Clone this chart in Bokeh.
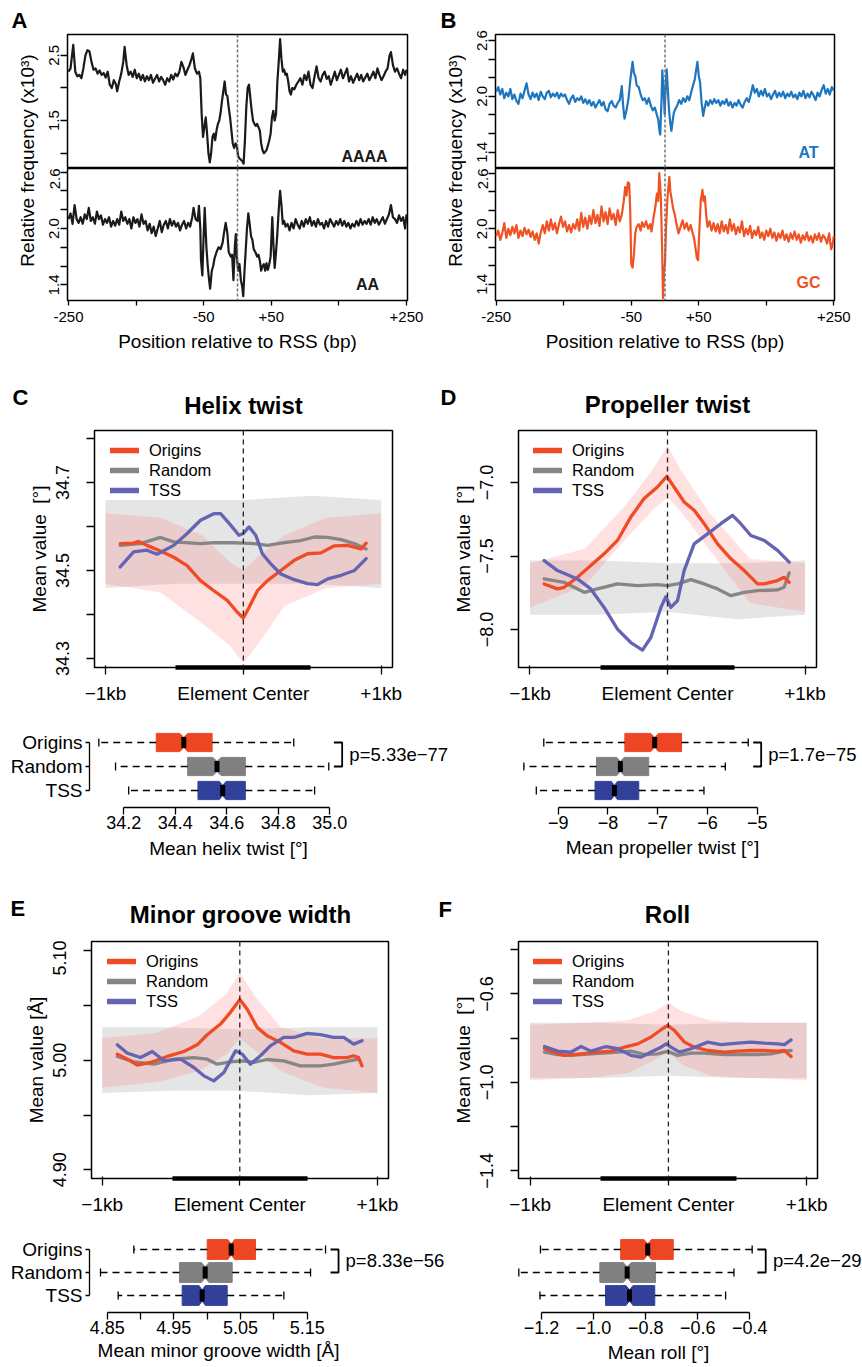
import math
from bokeh.plotting import figure
from bokeh.models import Range1d, LinearAxis, FixedTicker, Label, Span, Legend, LegendItem, Grid
from bokeh.layouts import row, column
from bokeh.embed import file_html
from bokeh.resources import INLINE
from bokeh.core.properties import value
from bokeh.core.validation import silence
from bokeh.core.validation.warnings import MISSING_RENDERERS

silence(MISSING_RENDERERS, True)
FONT = "Liberation Sans"

# ------------------------------------------------------------------ data
# Panels A/B : relative frequency (x10^3) vs position relative to RSS (bp)
AAAA = [(-250,2.25),(-247,2.30),(-243,2.66),(-240,2.25),(-237,2.18),(-234,2.20),(-231,2.15),(-228,2.30),(-225,2.50),(-222,2.58),(-219,2.56),(-216,2.40),(-213,2.28),(-210,2.30),(-207,2.22),(-204,2.27),(-201,2.20),(-198,2.23),(-195,2.16),(-192,2.25),(-189,2.05),(-186,2.00),(-183,2.12),(-180,2.06),(-178,1.95),(-175,2.10),(-172,2.22),(-169,2.40),(-167,2.63),(-164,2.35),(-161,2.20),(-158,2.25),(-155,2.17),(-152,2.28),(-149,2.15),(-146,2.22),(-143,2.12),(-140,2.20),(-137,2.10),(-134,2.18),(-131,2.12),(-128,2.20),(-125,2.08),(-122,2.14),(-119,2.20),(-116,2.10),(-113,2.17),(-110,2.12),(-107,2.05),(-104,2.15),(-101,2.10),(-98,2.20),(-95,2.13),(-92,2.22),(-89,2.18),(-86,2.25),(-83,2.40),(-80,2.32),(-77,2.20),(-74,2.28),(-71,2.35),(-68,2.45),(-66,2.53),(-63,2.30),(-60,2.22),(-57,2.25),(-55,2.15),(-53,1.60),(-51,1.25),(-49,1.40),(-47,1.55),(-45,1.30),(-43,1.00),(-41,0.86),(-39,1.00),(-37,1.25),(-35,1.30),(-33,1.20),(-31,1.35),(-29,1.45),(-27,1.50),(-25,1.62),(-23,1.80),(-21,1.95),(-19,2.10),(-17,1.90),(-15,1.88),(-13,1.70),(-11,1.55),(-9,1.35),(-7,1.15),(-5,1.08),(-3,1.15),(-1,1.12),(1,0.95),(3,0.92),(5,0.90),(7,0.88),(9,0.84),(11,1.20),(13,1.70),(15,2.00),(17,2.05),(19,1.85),(21,1.65),(23,1.50),(25,1.45),(27,1.42),(29,1.45),(31,1.40),(33,1.35),(35,1.15),(37,1.05),(39,1.00),(41,1.02),(43,1.05),(45,1.12),(47,1.20),(49,1.30),(51,1.55),(53,1.65),(55,1.50),(57,1.60),(59,2.10),(61,2.40),(63,2.75),(65,2.45),(67,2.25),(69,2.28),(71,2.20),(73,2.22),(75,2.10),(77,1.95),(79,1.90),(81,2.00),(84,1.98),(87,2.05),(90,2.10),(93,2.15),(96,2.05),(99,2.20),(102,2.12),(105,2.25),(108,2.05),(111,2.00),(114,2.18),(117,2.33),(120,2.15),(123,2.10),(126,2.20),(129,2.25),(132,2.14),(135,2.18),(138,2.05),(141,2.15),(144,2.25),(147,2.12),(150,2.20),(153,2.28),(156,2.15),(159,2.22),(162,2.30),(165,2.10),(168,2.18),(171,2.08),(174,2.15),(177,2.22),(180,2.12),(183,2.20),(186,2.10),(189,2.16),(192,2.22),(195,2.12),(198,2.18),(201,2.25),(204,2.15),(207,2.30),(210,2.20),(213,2.12),(216,2.18),(219,2.25),(222,2.30),(225,2.50),(227,2.55),(230,2.35),(233,2.25),(236,2.30),(239,2.22),(242,2.15),(245,2.28),(248,2.20),(250,2.28)]

AA = [(-250,2.10),(-247,2.16),(-244,2.05),(-241,2.25),(-238,2.10),(-235,2.06),(-232,2.12),(-229,2.05),(-226,2.15),(-223,2.10),(-220,2.22),(-217,2.08),(-214,2.12),(-211,2.05),(-208,2.18),(-205,2.10),(-202,2.14),(-199,2.04),(-196,2.10),(-193,2.06),(-190,2.12),(-187,2.02),(-184,2.08),(-181,2.03),(-178,2.10),(-175,2.04),(-172,2.18),(-169,2.08),(-166,2.12),(-163,2.05),(-160,2.10),(-157,2.00),(-154,2.12),(-151,2.06),(-148,2.10),(-145,2.02),(-142,2.15),(-139,2.05),(-136,2.08),(-133,1.98),(-130,2.05),(-127,1.95),(-124,2.02),(-121,1.92),(-118,2.00),(-115,2.08),(-112,1.96),(-109,2.04),(-106,2.08),(-103,2.00),(-100,2.10),(-97,2.03),(-94,2.08),(-91,2.02),(-88,2.06),(-85,1.98),(-82,2.04),(-79,2.08),(-76,2.00),(-73,2.06),(-70,2.02),(-67,2.12),(-65,2.22),(-62,2.10),(-59,2.08),(-57,2.24),(-55,2.00),(-54,1.66),(-52,1.50),(-50,1.95),(-48.5,2.22),(-46,1.80),(-44,1.60),(-42,1.45),(-40.5,1.36),(-38,1.55),(-36,1.60),(-34,1.68),(-31,1.75),(-28,1.80),(-25,1.78),(-22,1.85),(-20,1.95),(-17.5,2.06),(-15,1.95),(-13,1.75),(-10,1.70),(-8,1.72),(-6,1.45),(-4,1.80),(-2.5,1.94),(-1,1.70),(1,1.55),(3,1.62),(5,1.45),(7,1.38),(8.5,1.28),(10,1.50),(12,1.75),(14,2.00),(16,2.16),(18,2.05),(20,1.92),(22,1.88),(24,1.78),(27,1.74),(29,1.70),(31,1.72),(33,1.66),(35,1.55),(37,1.60),(39,1.62),(41,1.55),(43,1.63),(45,1.56),(47,1.62),(49,1.70),(51.5,2.12),(53,1.85),(55,1.58),(57,1.75),(59,1.95),(61,2.20),(63,2.40),(65,2.25),(67,2.05),(69,2.08),(71,2.02),(74,2.05),(77,1.98),(80,2.06),(83,2.00),(86,2.10),(89,2.04),(92,2.00),(95,2.08),(98,2.02),(101,2.10),(104,2.05),(107,2.12),(110,2.03),(113,2.08),(116,2.02),(119,2.10),(122,2.04),(125,2.06),(128,2.00),(131,2.08),(134,2.02),(137,2.10),(140,2.06),(143,2.02),(146,2.08),(149,2.04),(152,2.10),(155,2.03),(158,2.08),(161,2.02),(164,2.06),(167,2.00),(170,2.05),(173,2.02),(176,2.08),(179,2.03),(182,2.10),(185,2.04),(188,2.08),(191,2.05),(194,2.10),(197,2.04),(200,2.12),(203,2.06),(206,2.10),(209,2.04),(212,2.08),(215,2.12),(218,2.05),(221,2.10),(224,2.15),(227,2.25),(230,2.12),(233,2.10),(236,2.06),(239,2.14),(242,2.08),(245,2.12),(248,2.00),(250,2.15)]

AT = [(-250,2.05),(-247,2.10),(-244,2.02),(-241,2.08),(-238,1.98),(-235,2.04),(-232,2.00),(-229,2.08),(-226,1.97),(-223,2.02),(-220,1.95),(-217,1.92),(-214,2.03),(-211,1.98),(-208,2.06),(-205,2.14),(-202,2.02),(-199,1.97),(-196,2.04),(-193,1.99),(-190,2.03),(-187,1.96),(-184,2.05),(-181,2.00),(-178,1.97),(-175,2.04),(-172,2.06),(-169,1.99),(-166,2.03),(-163,2.00),(-160,2.04),(-157,1.98),(-154,2.03),(-151,2.00),(-148,2.02),(-145,1.96),(-142,1.92),(-139,1.98),(-136,2.01),(-133,1.94),(-130,1.98),(-127,1.96),(-124,2.00),(-121,1.93),(-118,1.97),(-115,1.92),(-112,1.96),(-109,1.90),(-106,1.94),(-103,1.88),(-100,1.92),(-97,1.96),(-94,1.90),(-91,1.94),(-88,1.86),(-85,1.84),(-82,1.92),(-79,1.95),(-76,1.90),(-73,1.88),(-70,1.93),(-67,1.96),(-64,2.11),(-62,1.90),(-60,1.76),(-57,1.85),(-54,1.98),(-51,2.20),(-48,2.37),(-46,2.25),(-44,2.22),(-42,2.12),(-39,2.10),(-36,2.02),(-33,1.96),(-30,1.98),(-27,1.92),(-24,1.98),(-21,1.90),(-18,1.85),(-15,1.88),(-12,1.80),(-10,1.75),(-8,1.62),(-7,1.59),(-5,2.00),(-4,2.28),(-2,2.05),(-0.5,1.81),(1,2.10),(2.5,2.29),(4,2.10),(6,1.85),(8,1.70),(9.5,1.63),(11,1.72),(13,1.82),(15,1.86),(18,1.90),(21,1.96),(24,1.92),(27,1.98),(30,1.94),(33,2.00),(36,1.96),(39,2.05),(42,2.13),(44,2.18),(46,2.28),(48,2.37),(50,2.22),(52,2.15),(54,1.95),(56.5,1.79),(58,1.85),(61,1.95),(64,1.90),(67,1.96),(70,1.92),(73,1.97),(76,1.93),(79,1.96),(82,1.90),(85,1.95),(88,1.92),(91,1.97),(94,1.90),(97,1.94),(100,1.88),(103,1.93),(106,1.90),(109,1.96),(112,1.91),(115,1.88),(118,1.94),(121,1.98),(124,1.94),(127,2.02),(130,2.12),(133,2.04),(136,2.08),(139,2.00),(142,2.06),(145,2.01),(148,2.08),(151,2.00),(154,2.03),(157,1.97),(160,2.02),(163,2.06),(166,1.99),(169,2.04),(172,2.00),(175,2.05),(178,1.98),(181,2.03),(184,2.00),(187,2.05),(190,1.99),(193,2.02),(196,1.97),(199,2.04),(202,2.00),(205,2.06),(208,1.98),(211,2.03),(214,1.99),(217,2.05),(220,2.01),(223,1.96),(226,2.04),(229,2.00),(232,2.07),(235,2.12),(238,2.03),(241,2.08),(244,2.02),(247,2.10),(250,2.06)]

GC = [(-250,1.92),(-247,1.98),(-244,1.88),(-241,1.95),(-238,2.06),(-235,1.90),(-232,2.00),(-229,1.93),(-226,2.02),(-223,1.95),(-220,2.04),(-217,1.90),(-214,1.98),(-211,1.92),(-208,2.01),(-205,1.94),(-202,1.99),(-199,1.91),(-196,1.97),(-193,1.88),(-190,1.95),(-187,1.84),(-184,1.96),(-181,2.04),(-178,1.95),(-175,2.08),(-172,1.98),(-169,2.10),(-166,1.99),(-163,2.06),(-160,1.95),(-157,2.05),(-154,2.13),(-151,2.02),(-148,2.08),(-145,1.97),(-142,2.04),(-139,1.96),(-136,2.05),(-133,2.00),(-130,2.10),(-127,1.98),(-124,2.17),(-121,2.02),(-118,2.12),(-115,2.00),(-112,2.14),(-109,2.05),(-106,2.20),(-103,2.06),(-100,2.15),(-97,2.03),(-94,2.24),(-91,2.08),(-88,2.18),(-85,2.05),(-82,2.22),(-79,2.10),(-76,2.16),(-73,2.04),(-70,2.20),(-67,2.08),(-64,2.15),(-61,2.30),(-59,2.45),(-57,2.36),(-55,2.50),(-53,2.49),(-51.5,2.20),(-50,1.62),(-48,1.58),(-46,1.72),(-44,1.95),(-42,2.02),(-39,2.05),(-36,1.98),(-34,2.07),(-31,2.02),(-28,2.08),(-25,2.00),(-22,2.05),(-20,1.97),(-17,2.12),(-14,2.25),(-12,2.38),(-10,2.30),(-8.5,2.60),(-7,2.45),(-6,2.31),(-4,1.70),(-3,1.25),(-1.5,1.55),(0,1.62),(1.5,2.00),(3.5,2.31),(5,2.45),(6.5,2.56),(8,2.40),(10,2.31),(12,2.22),(14.5,2.15),(17,2.05),(20,1.95),(23,2.02),(26,2.09),(29,2.00),(32,2.06),(35,1.98),(38,2.04),(41,1.95),(43,1.90),(45,1.80),(47,1.69),(49,1.66),(51,2.00),(53,2.31),(55.5,2.42),(57,2.30),(59,2.35),(61,2.15),(63,2.02),(66,2.08),(69,1.98),(72,2.06),(75,1.97),(78,2.05),(81,1.95),(84,2.08),(87,1.97),(90,2.04),(93,1.95),(96,2.10),(99,1.98),(102,2.05),(105,1.94),(108,2.02),(111,1.96),(114,2.08),(117,1.92),(120,2.00),(123,1.94),(126,2.03),(129,1.90),(132,1.98),(135,1.93),(138,2.02),(141,1.90),(144,1.96),(147,1.88),(150,1.98),(153,1.92),(156,2.00),(159,1.90),(162,1.96),(165,1.87),(168,1.95),(171,1.90),(174,1.98),(177,1.88),(180,1.94),(183,1.86),(186,1.95),(189,1.89),(192,1.97),(195,1.88),(198,1.94),(201,1.85),(204,1.93),(207,1.88),(210,1.96),(213,1.87),(216,1.92),(219,1.85),(222,1.94),(225,1.88),(228,1.95),(231,1.86),(234,1.93),(237,1.90),(240,1.84),(243,1.95),(246,1.78),(248,1.82),(250,1.92)]

POS_TICKS = [-250, -50, 50, 250]
POS_LABELS = ["-250", "-50", "+50", "+250"]
POS_MINOR = [-150, 150]

# Panels C-F : mean DNA shape profiles around element centers (bp, value)
GROUPS = ["Origins", "Random", "TSS"]
LINE_COLORS = ["#F04B24", "#868686", "#6464B2"]
BOX_COLORS = ["#EE4623", "#808080", "#33409A"]
ELEMENT = (-490, 490)
KB_TICKS = [-1000, 0, 1000]
KB_LABELS = ["\u22121kb", "Element Center", "+1kb"]

HT_ORI = [(-893,34.561),(-796,34.562),(-760,34.566),(-699,34.557),(-602,34.544),(-505,34.530),(-408,34.511),(-311,34.477),(-214,34.454),(-117,34.432),(-44,34.405),(0,34.392),(41,34.416),(102,34.454),(175,34.477),(272,34.500),(369,34.523),(466,34.538),(563,34.540),(660,34.556),(757,34.557),(854,34.549),(891,34.562)]
HT_RND = [(-893,34.557),(-748,34.561),(-602,34.575),(-505,34.565),(-311,34.561),(-214,34.563),(-68,34.563),(0,34.562),(78,34.561),(175,34.557),(296,34.563),(417,34.568),(515,34.576),(612,34.575),(709,34.570),(806,34.561),(891,34.549)]
HT_TSS = [(-893,34.508),(-796,34.542),(-699,34.546),(-626,34.537),(-505,34.557),(-408,34.584),(-311,34.614),(-214,34.629),(-165,34.629),(-92,34.603),(-32,34.580),(0,34.584),(41,34.599),(90,34.580),(138,34.538),(199,34.515),(272,34.492),(369,34.479),(466,34.470),(539,34.468),(612,34.481),(709,34.489),(806,34.500),(891,34.527)]

PT_ORI = [(-897,-7.690),(-800,-7.724),(-752,-7.713),(-655,-7.645),(-558,-7.565),(-461,-7.485),(-364,-7.394),(-267,-7.235),(-170,-7.109),(-73,-7.030),(-5,-6.957),(48,-7.030),(121,-7.132),(194,-7.189),(267,-7.280),(364,-7.417),(461,-7.519),(558,-7.599),(655,-7.690),(703,-7.690),(800,-7.667),(848,-7.645),(885,-7.679)]
PT_RND = [(-897,-7.656),(-752,-7.679),(-606,-7.747),(-509,-7.724),(-364,-7.690),(-218,-7.702),(-73,-7.695),(0,-7.702),(73,-7.690),(170,-7.661),(267,-7.690),(364,-7.724),(461,-7.770),(558,-7.747),(655,-7.736),(800,-7.731),(848,-7.713),(885,-7.615)]
PT_TSS = [(-897,-7.531),(-800,-7.599),(-655,-7.656),(-558,-7.724),(-461,-7.850),(-364,-7.998),(-267,-8.089),(-182,-8.141),(-121,-8.055),(-48,-7.850),(-12,-7.777),(24,-7.850),(73,-7.804),(121,-7.599),(194,-7.417),(291,-7.349),(388,-7.280),(473,-7.223),(533,-7.280),(606,-7.360),(703,-7.394),(800,-7.462),(885,-7.542)]

MG_ORI = [(-890,5.0055),(-817,5.0009),(-745,4.9954),(-648,4.9979),(-527,5.0034),(-406,5.0079),(-310,5.0140),(-237,5.0232),(-140,5.0329),(-68,5.0436),(0,5.0552),(53,5.0466),(126,5.0299),(198,5.0223),(295,5.0162),(392,5.0085),(489,5.0055),(585,5.0055),(682,5.0024),(779,5.0024),(827,5.0040),(863,5.0024),(888,4.9948)]
MG_RND = [(-890,5.0034),(-769,4.9985),(-624,4.9963),(-479,5.0009),(-334,5.0024),(-237,5.0009),(-164,4.9963),(-44,4.9988),(29,4.9994),(102,4.9979),(198,5.0006),(319,4.9994),(440,4.9948),(585,4.9948),(682,4.9963),(779,4.9988),(863,5.0009)]
MG_TSS = [(-890,5.0140),(-817,5.0064),(-721,5.0024),(-636,5.0079),(-551,4.9994),(-430,5.0009),(-334,4.9933),(-261,4.9857),(-189,4.9811),(-116,4.9887),(-31,5.0085),(17,5.0055),(77,4.9963),(150,5.0040),(222,5.0131),(319,5.0207),(392,5.0207),(489,5.0244),(585,5.0232),(682,5.0207),(755,5.0207),(827,5.0146),(888,5.0177)]

RL_ORI = [(-896,-0.848),(-800,-0.871),(-752,-0.878),(-631,-0.871),(-511,-0.863),(-414,-0.859),(-318,-0.841),(-222,-0.826),(-125,-0.795),(-53,-0.762),(-5,-0.743),(43,-0.765),(116,-0.818),(188,-0.841),(284,-0.856),(405,-0.863),(501,-0.859),(598,-0.856),(694,-0.856),(790,-0.859),(839,-0.856),(887,-0.883)]
RL_RND = [(-896,-0.863),(-800,-0.875),(-704,-0.878),(-559,-0.871),(-414,-0.866),(-270,-0.859),(-173,-0.874),(-77,-0.871),(-5,-0.860),(67,-0.878),(164,-0.868),(260,-0.868),(405,-0.875),(501,-0.874),(646,-0.874),(742,-0.871),(839,-0.859),(887,-0.856)]
RL_TSS = [(-896,-0.838),(-800,-0.859),(-704,-0.863),(-631,-0.838),(-559,-0.859),(-451,-0.838),(-366,-0.848),(-270,-0.878),(-198,-0.886),(-125,-0.863),(-53,-0.841),(-17,-0.826),(19,-0.841),(80,-0.863),(164,-0.848),(284,-0.818),(381,-0.829),(501,-0.823),(598,-0.818),(694,-0.823),(790,-0.826),(839,-0.829),(887,-0.808)]

# spread of the per-position point clouds (x, lower, upper)
HT_CLOUD_RND = ([-1000, -500, 0, 500, 1000], [34.46, 34.47, 34.47, 34.47, 34.46], [34.66, 34.66, 34.66, 34.67, 34.66])
HT_CLOUD_ORI = ([-1000, -600, -300, -100, 0, 100, 300, 600, 1000], [34.47, 34.45, 34.38, 34.33, 34.29, 34.33, 34.42, 34.46, 34.47], [34.63, 34.62, 34.58, 34.52, 34.50, 34.53, 34.58, 34.62, 34.63])
PT_CLOUD_RND = ([-1000, -500, 0, 500, 1000], [-7.90, -7.90, -7.88, -7.93, -7.90], [-7.53, -7.53, -7.55, -7.55, -7.53])
PT_CLOUD_ORI = ([-1000, -600, -300, -100, 0, 100, 300, 600, 1000], [-7.85, -7.70, -7.38, -7.18, -7.10, -7.20, -7.45, -7.82, -7.88], [-7.55, -7.45, -7.15, -6.90, -6.75, -6.92, -7.20, -7.52, -7.55])
MG_CLOUD_RND = ([-1000, -500, 0, 500, 1000], [4.970, 4.972, 4.972, 4.968, 4.970], [5.030, 5.030, 5.028, 5.030, 5.030])
MG_CLOUD_ORI = ([-1000, -600, -300, -100, 0, 100, 300, 600, 1000], [4.975, 4.980, 4.990, 5.005, 5.020, 5.010, 4.990, 4.975, 4.970], [5.020, 5.025, 5.040, 5.060, 5.080, 5.060, 5.030, 5.020, 5.020])
RL_CLOUD_RND = ([-1000, -500, 0, 500, 1000], [-0.98, -0.98, -0.97, -0.98, -0.98], [-0.73, -0.73, -0.74, -0.73, -0.73])
RL_CLOUD_ORI = ([-1000, -600, -300, -100, 0, 100, 300, 600, 1000], [-0.99, -0.98, -0.96, -0.90, -0.86, -0.92, -0.97, -0.98, -0.99], [-0.74, -0.73, -0.72, -0.68, -0.64, -0.68, -0.72, -0.73, -0.73])

# box plots: (whisker low, Q1, median, Q3, whisker high) for Origins, Random, TSS
HT_BOX = [(34.103, 34.326, 34.433, 34.543, 34.860), (34.168, 34.448, 34.562, 34.672, 34.996), (34.219, 34.488, 34.584, 34.672, 34.941)]
PT_BOX = [(-9.29, -7.66, -7.06, -6.52, -5.18), (-9.69, -8.23, -7.75, -7.18, -5.64), (-9.44, -8.26, -7.87, -7.38, -6.07)]
MG_BOX = [(4.890, 5.000, 5.036, 5.0725, 5.1775), (4.840, 4.9585, 4.997, 5.0375, 5.155), (4.8665, 4.9625, 4.9925, 5.030, 5.115)]
RL_BOX = [(-1.204, -0.896, -0.792, -0.694, -0.391), (-1.287, -0.976, -0.871, -0.762, -0.461), (-1.206, -0.954, -0.862, -0.765, -0.493)]
P_VALUES = ["p=5.33e\u221277", "p=1.7e\u221275", "p=8.33e\u221256", "p=4.2e\u221229"]


# ------------------------------------------------------------------ helpers
class Geo:
    """canvas / frame rectangles in page pixels, plus data ranges"""
    def __init__(self, canvas, frame=None, xr=None, yr=None):
        self.cx0, self.cy0, self.cx1, self.cy1 = canvas
        self.fx0, self.fy0, self.fx1, self.fy1 = frame if frame else canvas
        self.xr = xr if xr else (0, self.fx1 - self.fx0)
        self.yr = yr if yr else (0, self.fy1 - self.fy0)

    def X(self, px):
        return self.xr[0] + (px - self.fx0) * (self.xr[1] - self.xr[0]) / (self.fx1 - self.fx0)

    def Y(self, py):
        return self.yr[1] - (py - self.fy0) * (self.yr[1] - self.yr[0]) / (self.fy1 - self.fy0)


def make_fig(g, outline=True):
    p = figure(width=g.cx1 - g.cx0, height=g.cy1 - g.cy0,
               x_range=Range1d(*g.xr), y_range=Range1d(*g.yr),
               x_axis_location=None, y_axis_location=None,
               toolbar_location=None, output_backend="svg",
               min_border_left=g.fx0 - g.cx0, min_border_right=g.cx1 - g.fx1,
               min_border_top=g.fy0 - g.cy0, min_border_bottom=g.cy1 - g.fy1)
    p.center = [c for c in p.center if not isinstance(c, Grid)]
    p.outline_line_color = "black" if outline else None
    p.outline_line_width = 1.5
    p.background_fill_color = "white"
    p.border_fill_color = "white"
    return p


def axis(major, labels, minor=(), tick_out=7, tick_in=0, standoff=4, size="18px",
         orient="horizontal", line=False, bounds=None):
    ax = LinearAxis(ticker=FixedTicker(ticks=list(major), minor_ticks=list(minor)),
                    major_label_overrides=dict(zip(major, labels)),
                    major_tick_out=tick_out, major_tick_in=tick_in,
                    minor_tick_out=tick_out if minor else 0, minor_tick_in=0,
                    major_tick_line_width=1.3, minor_tick_line_width=1.3,
                    major_label_standoff=standoff, major_label_orientation=orient,
                    major_label_text_font=FONT, major_label_text_font_size=size,
                    major_label_text_color="black",
                    axis_label_text_font=FONT, axis_label_text_font_style="normal",
                    axis_label_text_color="black")
    if line:
        ax.axis_line_width = 1.3
        ax.axis_line_color = "black"
    else:
        ax.axis_line_color = None
    if bounds is not None:
        ax.bounds = bounds
    return ax


def lab(g, px, py, text, size, bold=False, align="left", baseline="alphabetic", angle=0, color="black"):
    """text label placed at page pixel (px, py); py is the text baseline unless baseline='middle'"""
    if baseline == "alphabetic":
        py = py - 0.3465 * size
    return Label(x=g.X(px), y=g.Y(py), text=text, text_font=FONT, text_font_size=f"{size}px",
                 text_font_style="bold" if bold else "normal", text_align=align,
                 text_baseline="middle", angle=angle, text_color=color)


def text_strip(g, items):
    """empty figure carrying panel letters / titles / axis titles"""
    p = make_fig(g, outline=False)
    for px, py, text, size, bold, align in items:
        p.add_layout(lab(g, px, py, text, size, bold=bold, align=align))
    return p


# ------------------------------------------------------------------ panels A / B
def rss_fig(g, series, color, tag, tag_px):
    p = make_fig(g)
    xs = [s[0] for s in series]
    ys = [s[1] for s in series]
    p.add_layout(Span(location=0, dimension="height", line_color="#707070", line_width=1.5, line_dash="3 2"))
    p.line(xs, ys, line_color=color, line_width=2.2, line_join="round")
    p.add_layout(lab(g, tag_px[0], tag_px[1], tag, 16, bold=True, align="center", color=color))
    return p


A_top_g = Geo((42, 0, 430, 168), (67, 34, 407, 168), (-251.5, 251.5), (0.766, 2.82))
A_bot_g = Geo((42, 168, 430, 365), (67, 168, 407, 300), (-251.5, 251.5), (1.233, 2.639))
B_top_g = Geo((466, 0, 862, 168), (495, 34, 834, 168), (-251, 251), (1.225, 2.665))
B_bot_g = Geo((466, 168, 862, 365), (495, 168, 834, 300), (-251, 251), (1.225, 2.65))

A_top = rss_fig(A_top_g, AAAA, "#1A1A1A", "AAAA", (364, 162))
A_bot = rss_fig(A_bot_g, AA, "#1A1A1A", "AA", (367, 290))
B_top = rss_fig(B_top_g, AT, "#1E76C0", "AT", (808, 158))
B_bot = rss_fig(B_bot_g, GC, "#EF5323", "GC", (808, 288))

A_top.add_layout(axis([1.5, 2.5], ["1.5", "2.5"], minor=[1.0, 2.0], tick_out=7, standoff=1, size="15px",
                      orient="parallel"), "left")
for pp in (A_bot, B_top, B_bot):
    pp.add_layout(axis([1.4, 2.0, 2.6], ["1.4", "2.0", "2.6"], minor=[1.6, 1.8, 2.2, 2.4], tick_out=7, standoff=1,
                       size="15px", orient="parallel"), "left")
for pp in (A_bot, B_bot):
    xa = axis(POS_TICKS, POS_LABELS, minor=POS_MINOR, tick_out=5, standoff=6, size="15px")
    xa.axis_label = "Position relative to RSS (bp)"
    xa.axis_label_text_font_size = "19px"
    xa.axis_label_standoff = 6
    pp.add_layout(xa, "below")

labA_g = Geo((0, 0, 42, 365))
labB_g = Geo((430, 0, 466, 365))
labA = make_fig(labA_g, outline=False)
labB = make_fig(labB_g, outline=False)
for pp, gg, letter, lx, yx in ((labA, labA_g, "A", 11, 26.5), (labB, labB_g, "B", 440, 455)):
    pp.add_layout(lab(gg, lx, 28, letter, 22, bold=True))
    pp.add_layout(lab(gg, yx, 160, "Relative frequency (x10\u00b3)", 19, align="center",
                      baseline="middle", angle=math.pi / 2))


# ------------------------------------------------------------------ panels C-F
def main_panel(g, curves, cloud_rnd, cloud_ori, ymaj, ylabels, ymin, ylabel, legend_loc):
    p = make_fig(g)
    p.varea(x=cloud_rnd[0], y1=cloud_rnd[1], y2=cloud_rnd[2], fill_color="#8A8A8A", fill_alpha=0.22)
    p.varea(x=cloud_ori[0], y1=cloud_ori[1], y2=cloud_ori[2], fill_color="#FF6A6A", fill_alpha=0.2)
    p.add_layout(Span(location=0, dimension="height", line_color="#222222", line_width=1.3, line_dash="5 4"))
    for idx in (1, 0, 2):
        xs = [c[0] for c in curves[idx]]
        ys = [c[1] for c in curves[idx]]
        p.line(xs, ys, line_color=LINE_COLORS[idx], line_width=3.3, line_join="round", line_cap="round")
    items = []
    for name, col in zip(GROUPS, LINE_COLORS):
        r = p.line(x=[float("nan")], y=[float("nan")], line_color=col, line_width=5.5, line_cap="round")
        items.append(LegendItem(label=name, renderers=[r]))
    lg = Legend(items=items, location=legend_loc, margin=0, padding=0, spacing=0,
                glyph_width=29, glyph_height=20, label_height=20, label_standoff=10,
                border_line_color=None, background_fill_alpha=0,
                label_text_font=FONT, label_text_font_size="16.5px", label_text_color="black")
    p.add_layout(lg)
    ya = axis(ymaj, ylabels, minor=ymin, tick_out=8, standoff=17, size="18px", orient="parallel")
    ya.axis_label = ylabel
    ya.axis_label_text_font_size = "19px"
    ya.axis_label_standoff = 4
    p.add_layout(ya, "left")
    spacer = axis([], [], tick_out=3, standoff=0)
    bar = axis([], [], tick_out=0, standoff=0, line=True, bounds=ELEMENT)
    bar.axis_line_width = 4.5
    ticks = axis(KB_TICKS, KB_LABELS, tick_out=7, tick_in=2, standoff=8, size="19px")
    p.add_layout(spacer, "below")
    p.add_layout(bar, "below")
    p.add_layout(ticks, "below")
    return p


def box_panel(g, stats, major, labels, minor, pval, group_axis, hh):
    p = make_fig(g, outline=False)
    ys = [3, 2, 1]
    lo = [s[0] for s in stats]
    q1 = [s[1] for s in stats]
    md = [s[2] for s in stats]
    q3 = [s[3] for s in stats]
    hi = [s[4] for s in stats]
    nd = 0.45 * hh
    pxs, pys = [], []
    for a, b, c, y in zip(q1, md, q3, ys):
        nw = 0.07 * (c - a)
        pxs.append([a, b - nw, b, b + nw, c, c, b + nw, b, b - nw, a])
        pys.append([y + hh, y + hh, y + hh - nd, y + hh, y + hh, y - hh, y - hh, y - hh + nd, y - hh, y - hh])
    p.patches(pxs, pys, fill_color=BOX_COLORS, line_color=BOX_COLORS, line_width=1)
    p.segment(x0=q1, y0=ys, x1=lo, y1=ys, line_color="black", line_width=1.3, line_dash="7 5")
    p.segment(x0=q3, y0=ys, x1=hi, y1=ys, line_color="black", line_width=1.3, line_dash="7 5")
    cap = 0.17
    p.segment(x0=lo, y0=[y - cap for y in ys], x1=lo, y1=[y + cap for y in ys], line_color="black", line_width=1.3)
    p.segment(x0=hi, y0=[y - cap for y in ys], x1=hi, y1=[y + cap for y in ys], line_color="black", line_width=1.3)
    p.rect(x=md, y=ys, width=5, height=2 * (hh - nd) + 0.05, width_units="screen",
           fill_color="black", line_color=None)
    span = major[-1] - major[0]
    bx = max(hi[0], hi[1]) + 0.065 * span
    tl = 0.04 * span
    p.line(x=[bx - tl, bx, bx, bx - tl], y=[3, 3, 2, 2], line_color="black", line_width=1.8)
    p.text(x=[bx + 0.035 * span], y=[2.5], text=[pval], text_font=value(FONT), text_font_size="18.5px",
           text_baseline="middle", text_align="left", text_color="black")
    xa = axis(major, labels, minor=minor, tick_out=7, standoff=1, size="18px", line=True,
              bounds=(major[0], major[-1]))
    p.add_layout(xa, "below")
    if group_axis:
        ya = axis([3, 2, 1], GROUPS, tick_out=4, standoff=3, size="19px", line=True, bounds=(1, 3))
        p.add_layout(ya, "left")
    return p


# title strips
C_tg = Geo((0, 365, 430, 429))
D_tg = Geo((430, 365, 862, 429))
E_tg = Geo((0, 880, 430, 940))
F_tg = Geo((430, 880, 862, 940))
C_title = text_strip(C_tg, [(12, 405, "C", 22, True, "left"), (243, 413, "Helix twist", 24, True, "center")])
D_title = text_strip(D_tg, [(440, 405, "D", 22, True, "left"), (667, 412, "Propeller twist", 24, True, "center")])
E_title = text_strip(E_tg, [(10, 916, "E", 22, True, "left"), (240, 922, "Minor groove width", 24, True, "center")])
F_title = text_strip(F_tg, [(438, 917, "F", 22, True, "left"), (667, 922, "Roll", 24, True, "center")])

C_g = Geo((0, 429, 430, 710), (94, 430, 392, 667), (-1079.8, 1082.0), (34.2795, 34.818))
D_g = Geo((430, 429, 862, 710), (518, 430, 816, 667), (-1083.6, 1083.6), (-8.259, -6.6455))
E_g = Geo((0, 940, 430, 1218), (91, 941, 388, 1178), (-1077.4, 1080.3), (4.8921, 5.1082))
F_g = Geo((430, 940, 862, 1218), (518, 941, 817, 1178), (-1083.9, 1078.1), (-1.4346, -0.3632))

C_main = main_panel(C_g, (HT_ORI, HT_RND, HT_TSS), HT_CLOUD_RND, HT_CLOUD_ORI,
                    [34.3, 34.5, 34.7], ["34.3", "34.5", "34.7"], [34.4, 34.6, 34.8],
                    "Mean value\u00a0 [\u00b0]", (16, 167))
D_main = main_panel(D_g, (PT_ORI, PT_RND, PT_TSS), PT_CLOUD_RND, PT_CLOUD_ORI,
                    [-8.0, -7.5, -7.0], ["\u22128.0", "\u22127.5", "\u22127.0"], [],
                    "Mean value\u00a0 [\u00b0]", (15, 167))
E_main = main_panel(E_g, (MG_ORI, MG_RND, MG_TSS), MG_CLOUD_RND, MG_CLOUD_ORI,
                    [4.90, 5.00, 5.10], ["4.90", "5.00", "5.10"], [4.95, 5.05],
                    "Mean value [\u00c5]", (16, 167))
F_main = main_panel(F_g, (RL_ORI, RL_RND, RL_TSS), RL_CLOUD_RND, RL_CLOUD_ORI,
                    [-1.4, -1.0, -0.6], ["\u22121.4", "\u22121.0", "\u22120.6"], [-1.2, -0.8, -0.4],
                    "Mean value\u00a0 [\u00b0]", (15, 167))

Cb_g = Geo((0, 710, 458, 838), (89, 722, 458, 807), (34.0668, 35.4998), (0.2917, 3.8333))
Db_g = Geo((458, 710, 862, 838), (458, 722, 862, 807), (-11.004, -2.883), (0.2917, 3.8333))
Eb_g = Geo((0, 1218, 458, 1340), (89, 1228, 458, 1312), (4.8235, 5.3769), (0.2609, 3.913))
Fb_g = Geo((458, 1218, 862, 1340), (458, 1228, 862, 1312), (-1.5187, 0.0327), (0.2609, 3.913))

C_box = box_panel(Cb_g, HT_BOX, [34.2, 34.4, 34.6, 34.8, 35.0], ["34.2", "34.4", "34.6", "34.8", "35.0"], [],
                  P_VALUES[0], True, 0.38)
D_box = box_panel(Db_g, PT_BOX, [-9, -8, -7, -6, -5], ["\u22129", "\u22128", "\u22127", "\u22126", "\u22125"], [],
                  P_VALUES[1], False, 0.38)
E_box = box_panel(Eb_g, MG_BOX, [4.85, 4.95, 5.05, 5.15], ["4.85", "4.95", "5.05", "5.15"], [4.90, 5.00, 5.10],
                  P_VALUES[2], True, 0.43)
F_box = box_panel(Fb_g, RL_BOX, [-1.2, -1.0, -0.8, -0.6, -0.4],
                  ["\u22121.2", "\u22121.0", "\u22120.8", "\u22120.6", "\u22120.4"], [],
                  P_VALUES[3], False, 0.43)

C_xl = text_strip(Geo((0, 838, 458, 880)), [(228, 855, "Mean helix twist [\u00b0]", 19, False, "center")])
D_xl = text_strip(Geo((458, 838, 862, 880)), [(662, 854, "Mean propeller twist [\u00b0]", 19, False, "center")])
E_xl = text_strip(Geo((0, 1340, 458, 1366)), [(218, 1357, "Mean minor groove width [\u00c5]", 19, False, "center")])
F_xl = text_strip(Geo((458, 1340, 862, 1366)), [(658, 1359, "Mean roll [\u00b0]", 19, False, "center")])

layout = column(
    row(labA, column(A_top, A_bot), labB, column(B_top, B_bot)),
    row(C_title, D_title),
    row(C_main, D_main),
    row(C_box, D_box),
    row(C_xl, D_xl),
    row(E_title, F_title),
    row(E_main, F_main),
    row(E_box, F_box),
    row(E_xl, F_xl),
)

open("out.html", "w").write(file_html(layout, INLINE))
